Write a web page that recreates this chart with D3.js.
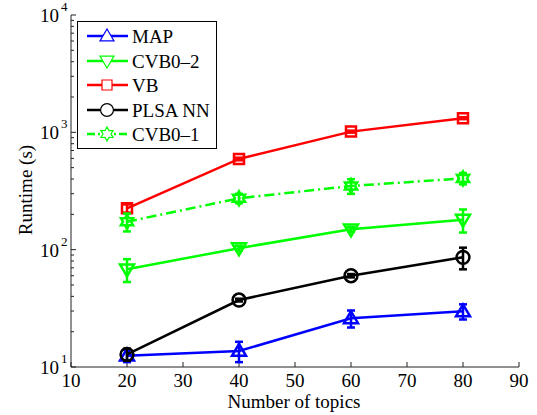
<!DOCTYPE html>
<html>
<head>
<meta charset="utf-8">
<script src="https://cdn.jsdelivr.net/npm/d3@7"></script>
<style>
  body { margin: 0; background: #fff; }
  text { font-family: "Liberation Serif", "Times New Roman", serif; fill: #000; }
</style>
</head>
<body>
<script>
var width = 537,
    height = 415;

// data
var topics = [20, 40, 60, 80];
var seriesNames = ["MAP", "CVB0\u20132", "VB", "PLSA NN", "CVB0\u20131"];
var mapRuntime = [12.5, 13.7, 26, 29.8];
var mapErr = [1.5, 2.7, 4.3, 4.4];
var cvb02Runtime = [68, 103, 149, 180];
var cvb02Err = [15, 5, 7, 40];
var vbRuntime = [225, 593, 1014, 1320];
var vbErr = [18, 15, 20, 25];
var plsaRuntime = [12.8, 37.2, 60, 86];
var plsaErr = [1.5, 1, 2, 18];
var cvb01Runtime = [173, 274, 349, 405];
var cvb01Err = [30, 25, 50, 45];
var xTicks = [10, 20, 30, 40, 50, 60, 70, 80, 90];
var yTicks = [10, 100, 1000, 10000];

var series = [
  { name: seriesNames[0], y: mapRuntime, err: mapErr, color: "#0000ff", marker: "up", dash: null },
  { name: seriesNames[1], y: cvb02Runtime, err: cvb02Err, color: "#00ff00", marker: "down", dash: null },
  { name: seriesNames[2], y: vbRuntime, err: vbErr, color: "#ff0000", marker: "square", dash: null },
  { name: seriesNames[3], y: plsaRuntime, err: plsaErr, color: "#000000", marker: "circle", dash: null },
  { name: seriesNames[4], y: cvb01Runtime, err: cvb01Err, color: "#00ff00", marker: "hex", dash: "10,4,2,4" }
];

var svg = d3.select("body").append("svg")
    .attr("width", width)
    .attr("height", height);

var x = d3.scaleLinear().domain([10, 90]).range([71, 519]);
var y = d3.scaleLog().domain([10, 10000]).range([367, 15]);

// axes (only left and bottom, ticks pointing inward)
var xAxis = svg.append("g").attr("transform", "translate(0,367)");
xAxis.append("line").attr("x1", 71).attr("x2", 519).attr("stroke", "#222").attr("stroke-width", 1);
xAxis.selectAll(".tk").data(xTicks).enter().append("line")
    .attr("x1", function(d) { return x(d); }).attr("x2", function(d) { return x(d); })
    .attr("y1", 0).attr("y2", -5).attr("stroke", "#222");
xAxis.selectAll(".lb").data(xTicks).enter().append("text")
    .attr("x", function(d) { return x(d); }).attr("y", 20)
    .attr("text-anchor", "middle").style("font-size", "19px")
    .text(function(d) { return d; });

var yAxis = svg.append("g");
yAxis.append("line").attr("x1", 71).attr("x2", 71).attr("y1", 15).attr("y2", 367)
    .attr("stroke", "#222");
var minor = [];
for (var e = 1; e < 4; e++) {
  for (var m = 2; m < 10; m++) minor.push(m * Math.pow(10, e));
}
yAxis.selectAll(".mn").data(minor).enter().append("line")
    .attr("x1", 71).attr("x2", 74)
    .attr("y1", function(d) { return y(d); }).attr("y2", function(d) { return y(d); })
    .attr("stroke", "#222");
yAxis.selectAll(".mj").data(yTicks).enter().append("line")
    .attr("x1", 71).attr("x2", 76)
    .attr("y1", function(d) { return y(d); }).attr("y2", function(d) { return y(d); })
    .attr("stroke", "#222");
yAxis.selectAll(".lb").data(yTicks).enter().append("text")
    .attr("x", 59).attr("y", function(d) { return y(d) + 7; })
    .attr("text-anchor", "end").style("font-size", "19px")
    .text("10");
yAxis.selectAll(".ex").data(yTicks).enter().append("text")
    .attr("x", 61).attr("y", function(d) { return y(d) - 4; })
    .style("font-size", "13px")
    .text(function(d) { return Math.round(Math.log10(d)); });

svg.append("text")
    .attr("x", 294).attr("y", 408)
    .attr("text-anchor", "middle").style("font-size", "19px")
    .text("Number of topics");
svg.append("text")
    .attr("transform", "translate(32,190) rotate(-90)")
    .attr("text-anchor", "middle").style("font-size", "19px")
    .text("Runtime (s)");

function markerPath(type) {
  var s = 7;
  if (type === "up") return "M0," + (-s) + "L" + s + "," + (s * 0.7) + "L" + (-s) + "," + (s * 0.7) + "Z";
  if (type === "down") return "M0," + s + "L" + s + "," + (-s * 0.7) + "L" + (-s) + "," + (-s * 0.7) + "Z";
  if (type === "square") return "M-5,-5L5,-5L5,5L-5,5Z";
  if (type === "circle") return d3.symbol(d3.symbolCircle, 130)();
  // hexagram
  var r1 = 7, r2 = 4, pts = [];
  for (var i = 0; i < 12; i++) {
    var a = -Math.PI / 2 + i * Math.PI / 6;
    var r = i % 2 === 0 ? r1 : r2;
    pts.push([r * Math.cos(a), r * Math.sin(a)]);
  }
  return "M" + pts.join("L") + "Z";
}

var line = d3.line()
    .x(function(d) { return x(d[0]); })
    .y(function(d) { return y(d[1]); });

series.forEach(function(s) {
  var g = svg.append("g");
  var pts = topics.map(function(t, i) { return [t, s.y[i], s.err[i]]; });
  g.append("path").datum(pts)
      .attr("d", line)
      .attr("fill", "none")
      .attr("stroke", s.color)
      .attr("stroke-width", 2.5)
      .attr("stroke-dasharray", s.dash);
  // error bars
  var eb = g.selectAll(".eb").data(pts).enter().append("g");
  eb.append("line")
      .attr("x1", function(d) { return x(d[0]); }).attr("x2", function(d) { return x(d[0]); })
      .attr("y1", function(d) { return y(d[1] + d[2]); })
      .attr("y2", function(d) { return y(Math.max(d[1] - d[2], 10.01)); })
      .attr("stroke", s.color).attr("stroke-width", 2.5);
  [1, -1].forEach(function(sign) {
    eb.append("line")
        .attr("x1", function(d) { return x(d[0]) - 4; }).attr("x2", function(d) { return x(d[0]) + 4; })
        .attr("y1", function(d) { return y(Math.max(d[1] + sign * d[2], 10.01)); })
        .attr("y2", function(d) { return y(Math.max(d[1] + sign * d[2], 10.01)); })
        .attr("stroke", s.color).attr("stroke-width", 2.5);
  });
  g.selectAll(".mk").data(pts).enter().append("path")
      .attr("transform", function(d) { return "translate(" + x(d[0]) + "," + y(d[1]) + ")"; })
      .attr("d", markerPath(s.marker))
      .attr("fill", "none")
      .attr("stroke", s.color)
      .attr("stroke-width", 2.5);
});

// legend
var legend = svg.append("g");
legend.append("rect")
    .attr("x", 77.5).attr("y", 21.5).attr("width", 139).attr("height", 127)
    .attr("fill", "#fff").attr("stroke", "#000").attr("stroke-width", 1);
var ly = [36, 61, 85, 110, 134];
series.forEach(function(s, i) {
  var row = legend.append("g").attr("transform", "translate(0," + ly[i] + ")");
  row.append("line").attr("x1", 87).attr("x2", 128).attr("y1", 0).attr("y2", 0)
      .attr("stroke", s.color).attr("stroke-width", 2.5)
      .attr("stroke-dasharray", s.dash ? "8,3,2,3" : null);
  row.append("path").attr("transform", "translate(107,0)")
      .attr("d", markerPath(s.marker))
      .attr("fill", "#fff").attr("stroke", s.color).attr("stroke-width", 1.2);
  row.append("text").attr("x", 132).attr("y", 7)
      .style("font-size", "19px").text(s.name);
});
</script>
</body>
</html>
